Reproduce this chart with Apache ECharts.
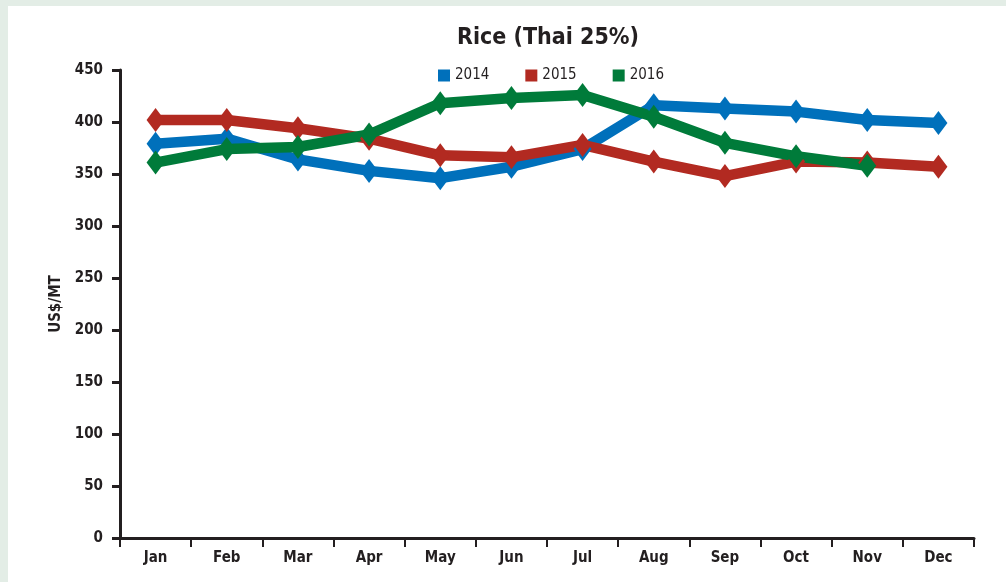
<!DOCTYPE html>
<html>
<head>
<meta charset="utf-8">
<script src="https://cdn.jsdelivr.net/npm/echarts@6/dist/echarts.min.js"></script>
<style>
  html, body { margin: 0; padding: 0; background: #e3ede6; }
  #chart { position: absolute; left: 8px; top: 6px; width: 998px; height: 576px; background: #ffffff; }
</style>
</head>
<body>
<div id="chart"></div>
<script>
// Monthly rice prices, Thai 25% broken, US$ per metric ton
const months = ['Jan', 'Feb', 'Mar', 'Apr', 'May', 'Jun', 'Jul', 'Aug', 'Sep', 'Oct', 'Nov', 'Dec'];
const price2014 = [379, 384, 364, 353, 346, 357, 374, 416, 413, 410, 402, 399];
const price2015 = [402, 402, 394, 384, 368, 366, 378, 362, 348, 362, 361, 357];
const price2016 = [361, 374, 376, 388, 418, 423, 426, 405, 380, 367, 358, null];
const yTicks = [0, 50, 100, 150, 200, 250, 300, 350, 400, 450];

const FONT = 'DejaVu Sans Condensed, Liberation Sans Narrow, sans-serif';
const INK = '#231f20';

function yearSeries(name, data, color) {
  return {
    name: name,
    type: 'line',
    data: data,
    symbol: 'diamond',
    symbolSize: [18, 24],
    lineStyle: { width: 10.5, color: color },
    itemStyle: { color: color },
    animation: false
  };
}

const chart = echarts.init(document.getElementById('chart'));
chart.setOption({
  backgroundColor: '#ffffff',
  title: {
    text: 'Rice (Thai 25%)',
    left: 535,
    top: 16,
    textAlign: 'center',
    textStyle: { fontFamily: FONT, fontSize: 23, fontWeight: 'bold', color: INK }
  },
  legend: {
    left: 425,
    top: 57,
    itemWidth: 12,
    itemHeight: 12,
    itemGap: 36,
    icon: 'rect',
    data: ['2014', '2015', '2016'],
    textStyle: { fontFamily: FONT, fontSize: 15, color: INK }
  },
  grid: { left: 112, right: 32, top: 64, bottom: 44, containLabel: false },
  xAxis: {
    type: 'category',
    data: months,
    boundaryGap: true,
    axisLine: { lineStyle: { color: INK, width: 3 } },
    axisTick: { show: true, length: 9, lineStyle: { color: INK, width: 2 } },
    axisLabel: { fontFamily: FONT, fontSize: 15, fontWeight: 'bold', color: INK, margin: 13 },
    splitLine: { show: false }
  },
  yAxis: {
    type: 'value',
    min: yTicks[0],
    max: yTicks[yTicks.length - 1],
    interval: 50,
    name: 'US$/MT',
    nameLocation: 'middle',
    nameGap: 53,
    nameTextStyle: { fontFamily: FONT, fontSize: 15, fontWeight: 'bold', color: INK },
    axisLine: { show: true, lineStyle: { color: INK, width: 3 } },
    axisTick: { show: true, length: 8, lineStyle: { color: INK, width: 3 } },
    axisLabel: { fontFamily: FONT, fontSize: 15, fontWeight: 'bold', color: INK, margin: 17 },
    splitLine: { show: false }
  },
  series: [
    yearSeries('2014', price2014, '#0070bb'),
    yearSeries('2015', price2015, '#b22a21'),
    yearSeries('2016', price2016, '#007b3a')
  ]
});
</script>
</body>
</html>
